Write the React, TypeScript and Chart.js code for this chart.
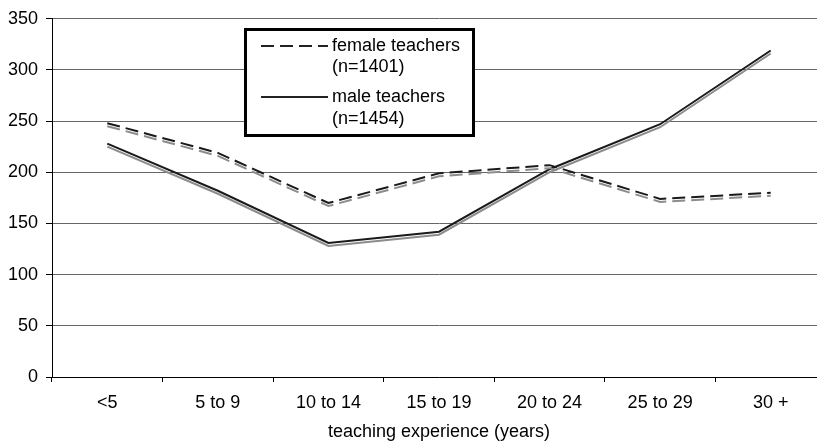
import React, { useEffect, useRef } from "react";
import { Chart, registerables } from "chart.js";

Chart.register(...registerables);

const categories = ["<5", "5 to 9", "10 to 14", "15 to 19", "20 to 24", "25 to 29", "30 +"];
const femaleValues = [248, 219, 170, 199, 207, 174, 180];
const maleValues = [228, 182, 131, 142, 203, 247, 319];
const femaleLabel = ["female teachers", "(n=1401)"];
const maleLabel = ["male teachers", "(n=1454)"];
const xTitle = "teaching experience (years)";

const FONT = "'Liberation Sans', Arial, sans-serif";

const shadowPlugin = {
  id: "lineShadow",
  beforeDatasetDraw(chart: any) {
    const ctx = chart.ctx;
    ctx.save();
    ctx.shadowColor = "#8c8c8c";
    ctx.shadowOffsetX = 0;
    ctx.shadowOffsetY = 3;
    ctx.shadowBlur = 0;
  },
  afterDatasetDraw(chart: any) {
    chart.ctx.restore();
  },
};

const legendPlugin = {
  id: "boxLegend",
  afterDraw(chart: any) {
    const ctx = chart.ctx;
    ctx.save();
    ctx.fillStyle = "#fff";
    ctx.fillRect(245, 29, 229, 107);
    ctx.strokeStyle = "#000";
    ctx.lineWidth = 3;
    ctx.strokeRect(245.5, 29.5, 228, 106);
    ctx.strokeStyle = "#222";
    ctx.lineWidth = 2;
    ctx.setLineDash([13, 6]);
    ctx.beginPath();
    ctx.moveTo(261, 46);
    ctx.lineTo(328, 46);
    ctx.stroke();
    ctx.setLineDash([]);
    ctx.beginPath();
    ctx.moveTo(261, 97);
    ctx.lineTo(328, 97);
    ctx.stroke();
    ctx.fillStyle = "#000";
    ctx.font = `18px ${FONT}`;
    ctx.textBaseline = "middle";
    ctx.textAlign = "left";
    ctx.fillText(femaleLabel[0], 332, 46);
    ctx.fillText(femaleLabel[1], 332, 67);
    ctx.fillText(maleLabel[0], 332, 97);
    ctx.fillText(maleLabel[1], 332, 119);
    ctx.restore();
  },
};

export default function App() {
  const ref = useRef<HTMLCanvasElement>(null);

  useEffect(() => {
    if (!ref.current) return;
    const chart = new Chart(ref.current, {
      type: "line",
      data: {
        labels: categories,
        datasets: [
          {
            label: femaleLabel.join(" "),
            data: femaleValues,
            borderColor: "#1a1a1a",
            borderWidth: 2,
            borderDash: [13, 6],
            pointRadius: 0,
            tension: 0,
            fill: false,
          },
          {
            label: maleLabel.join(" "),
            data: maleValues,
            borderColor: "#1a1a1a",
            borderWidth: 2,
            pointRadius: 0,
            tension: 0,
            fill: false,
          },
        ],
      },
      options: {
        responsive: false,
        animation: false,
        devicePixelRatio: 1,
        layout: { padding: { top: 18, right: 4, left: 0, bottom: 0 } },
        plugins: {
          legend: { display: false },
          tooltip: { enabled: false },
        },
        scales: {
          x: {
            offset: true,
            grid: {
              offset: true,
              drawOnChartArea: false,
              drawTicks: true,
              tickLength: 5,
              color: "#000",
            },
            border: { color: "#000", width: 1 },
            ticks: {
              color: "#000",
              font: { family: FONT, size: 18 },
              padding: 10,
              maxRotation: 0,
              autoSkip: false,
            },
            title: {
              display: true,
              text: xTitle,
              color: "#000",
              font: { family: FONT, size: 18 },
              padding: { top: 2, bottom: 1 },
            },
            afterFit(scale: any) {
              scale.height = 67;
            },
          },
          y: {
            min: 0,
            max: 350,
            ticks: {
              stepSize: 50,
              color: "#000",
              font: { family: FONT, size: 18 },
              padding: 8,
            },
            grid: {
              color: "#666",
              tickColor: "#000",
              tickLength: 6,
            },
            border: { color: "#000", width: 1 },
            afterFit(scale: any) {
              scale.width = 52;
            },
          },
        },
      },
      plugins: [shadowPlugin, legendPlugin],
    });
    return () => chart.destroy();
  }, []);

  return (
    <div style={{ position: "fixed", left: 0, top: 0, width: 830, height: 444, background: "#fff" }}>
      <canvas ref={ref} width={830} height={444} style={{ width: 830, height: 444, display: "block" }} />
    </div>
  );
}
